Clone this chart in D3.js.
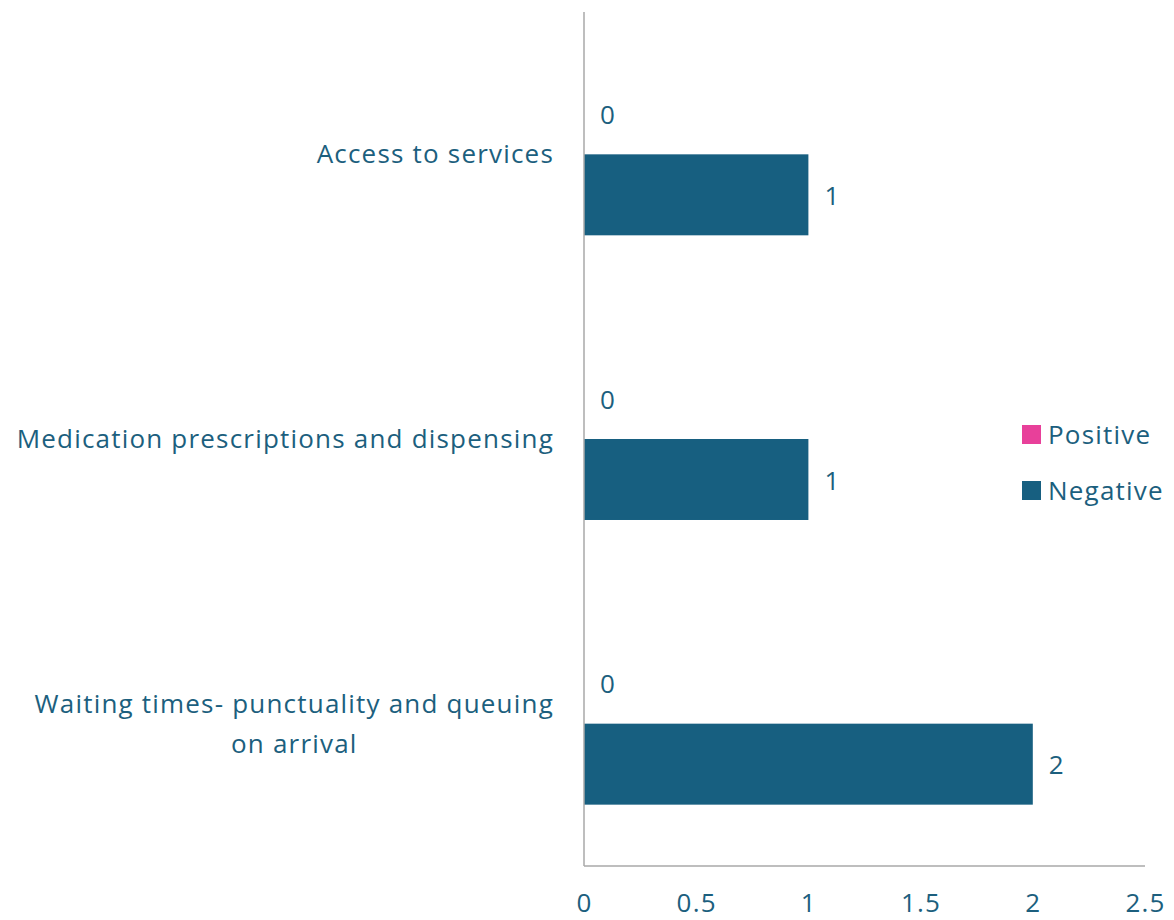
<!DOCTYPE html>
<html>
<head>
<meta charset="utf-8">
<script src="https://cdn.jsdelivr.net/npm/d3@7"></script>
<style>
  html, body { margin: 0; padding: 0; background: #ffffff; }
  svg { display: block; }
  text { font-family: "Open Sans", "Noto Sans", sans-serif; letter-spacing: 1.2px; }
</style>
</head>
<body>
<svg id="chart" width="1174" height="920"></svg>
<script>
// Feedback themes, top to bottom
const categories = [
  "Access to services",
  "Medication prescriptions and dispensing",
  "Waiting times- punctuality and queuing on arrival"
];
const seriesNames = ["Positive", "Negative"];
const positiveValues = [0, 0, 0];
const negativeValues = [1, 1, 2];
const xTicks = [0, 0.5, 1, 1.5, 2, 2.5];

const colors = { Positive: "#e8409a", Negative: "#175f80" };
const textColor = "#1c5f7e";
const axisColor = "#a8a8a8";
const fontFamily = "\"Open Sans\", \"Noto Sans\", sans-serif";
const fontSize = 26;

const svg = d3.select("#chart");
const plot = { left: 584, right: 1145, top: 12, bottom: 866 };

const x = d3.scaleLinear().domain([0, 2.5]).range([plot.left, plot.right]);
const y = d3.scaleBand().domain(categories)
  .range([plot.top, plot.bottom])
  .paddingInner(0.431).paddingOuter(0.2155);
const ySub = d3.scaleBand().domain(seriesNames).range([0, y.bandwidth()]).padding(0);

const rows = categories.map((c, i) => ({
  category: c,
  values: [
    { series: "Positive", value: positiveValues[i] },
    { series: "Negative", value: negativeValues[i] }
  ]
}));

// Bars
const groups = svg.append("g").selectAll("g").data(rows).join("g")
  .attr("transform", d => `translate(0,${y(d.category)})`);

groups.selectAll("rect").data(d => d.values).join("rect")
  .attr("x", x(0))
  .attr("y", d => ySub(d.series))
  .attr("width", d => x(d.value) - x(0))
  .attr("height", ySub.bandwidth())
  .attr("fill", d => colors[d.series]);

// Value labels
groups.selectAll("text.value").data(d => d.values).join("text")
  .attr("class", "value")
  .attr("x", d => x(d.value) + 16)
  .attr("y", d => ySub(d.series) + ySub.bandwidth() / 2 + 1)
  .attr("dy", "0.35em")
  .attr("font-size", fontSize)
  .attr("fill", textColor)
  .text(d => d3.format("~g")(d.value));

// Axis lines
svg.append("line")
  .attr("x1", x(0)).attr("x2", x(0))
  .attr("y1", plot.top).attr("y2", plot.bottom)
  .attr("stroke", axisColor).attr("stroke-width", 1.5);
svg.append("line")
  .attr("x1", x(0)).attr("x2", plot.right)
  .attr("y1", plot.bottom).attr("y2", plot.bottom)
  .attr("stroke", axisColor).attr("stroke-width", 1.5);

// X tick labels
const xAxis = d3.axisBottom(x).tickValues(xTicks).tickSize(0).tickPadding(28)
  .tickFormat(d3.format("~g"));
const gx = svg.append("g").attr("transform", `translate(0,${plot.bottom})`).call(xAxis);
gx.select(".domain").remove();
gx.selectAll("text")
  .attr("font-size", fontSize)
  .attr("font-family", fontFamily)
  .attr("fill", textColor);

// Category labels, wrapped and right-aligned next to the axis
const labelRight = 554;
const maxLabelWidth = 548;
const lineHeight = 40;
const measurer = svg.append("text").attr("font-size", fontSize).attr("visibility", "hidden");
function measure(s) { measurer.text(s); return measurer.node().getComputedTextLength(); }
function wrap(s) {
  const words = s.split(" ");
  const lines = [];
  let cur = "";
  words.forEach(w => {
    const trial = cur ? cur + " " + w : w;
    if (cur && measure(trial) > maxLabelWidth) { lines.push(cur); cur = w; }
    else cur = trial;
  });
  if (cur) lines.push(cur);
  return lines;
}

categories.forEach(c => {
  const lines = wrap(c);
  const widths = lines.map(measure);
  const blockW = d3.max(widths);
  const cx = labelRight - blockW / 2;
  const cy = y(c) + y.bandwidth() / 2;
  const t = svg.append("text")
    .attr("font-size", fontSize)
    .attr("fill", textColor)
    .attr("text-anchor", "middle");
  lines.forEach((ln, i) => {
    t.append("tspan")
      .attr("x", cx)
      .attr("y", cy + (i - (lines.length - 1) / 2) * lineHeight)
      .attr("dy", "0.35em")
      .text(ln);
  });
});
measurer.remove();

// Legend
const legend = svg.append("g").attr("transform", "translate(1022,425)");
const li = legend.selectAll("g").data(seriesNames).join("g")
  .attr("transform", (d, i) => `translate(0,${i * 56})`);
li.append("rect").attr("width", 19).attr("height", 19).attr("fill", d => colors[d]);
li.append("text")
  .attr("x", 26).attr("y", 9.5).attr("dy", "0.35em")
  .attr("font-size", fontSize).attr("fill", textColor)
  .text(d => d);
</script>
</body>
</html>
